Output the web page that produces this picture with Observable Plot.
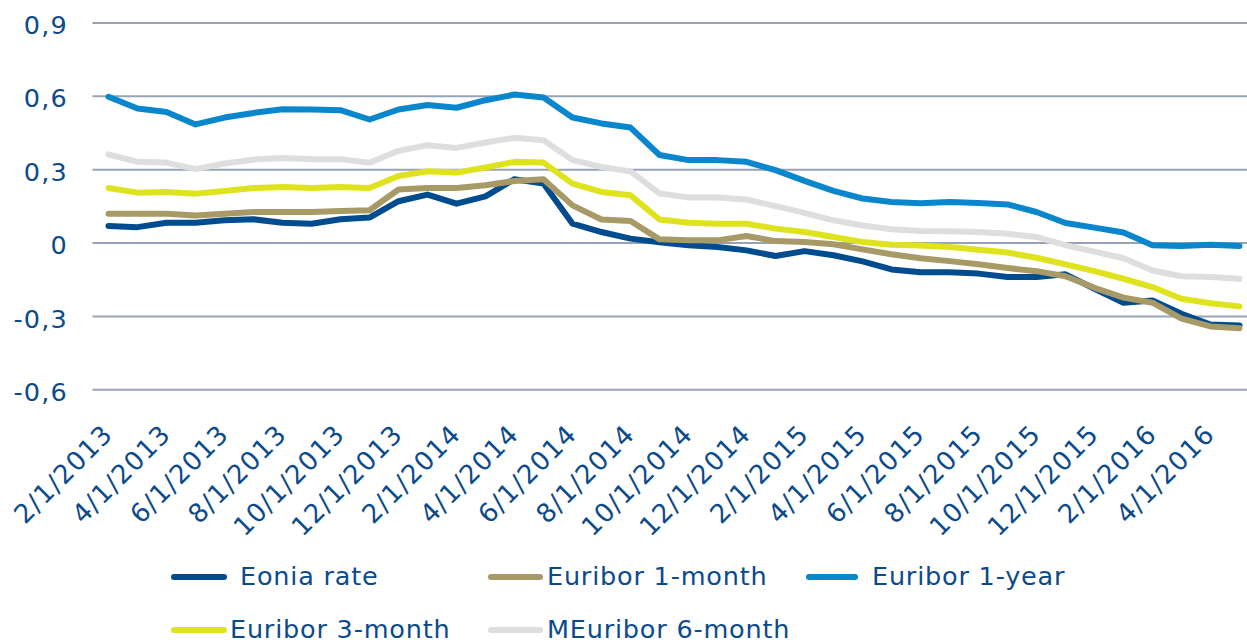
<!DOCTYPE html>
<html>
<head>
<meta charset="utf-8">
<script src="https://cdn.jsdelivr.net/npm/d3@7"></script>
<script src="https://cdn.jsdelivr.net/npm/@observablehq/plot@0.6"></script>
<style>
  html, body { margin: 0; padding: 0; background: #fff; }
  #wrap { position: relative; width: 1247px; height: 644px; overflow: hidden; font-family: "DejaVu Sans", Verdana, sans-serif; }
  #wrap svg { position: absolute; left: 0; top: 0; overflow: visible; }
  .lg { position: absolute; height: 6px; border-radius: 3px; }
  .lt { position: absolute; font-size: 25.5px; letter-spacing: 0.8px; color: #0b4a8b; line-height: 30px; white-space: nowrap; }
  #wrap svg g[aria-label="x-axis tick label"] text { letter-spacing: 1.2px; }
  #wrap svg g[aria-label="y-axis tick label"] text { letter-spacing: 1.2px; }
</style>
</head>
<body>
<div id="wrap"></div>
<script>
const months = [
  "2/1/2013","3/1/2013","4/1/2013","5/1/2013","6/1/2013","7/1/2013","8/1/2013","9/1/2013","10/1/2013","11/1/2013","12/1/2013",
  "1/1/2014","2/1/2014","3/1/2014","4/1/2014","5/1/2014","6/1/2014","7/1/2014","8/1/2014","9/1/2014","10/1/2014","11/1/2014","12/1/2014",
  "1/1/2015","2/1/2015","3/1/2015","4/1/2015","5/1/2015","6/1/2015","7/1/2015","8/1/2015","9/1/2015","10/1/2015","11/1/2015","12/1/2015",
  "1/1/2016","2/1/2016","3/1/2016","4/1/2016","5/1/2016"
];
const seriesNames = ["Eonia rate", "Euribor 1-month", "Euribor 1-year", "Euribor 3-month", "MEuribor 6-month"];
const seriesColors = ["#004c8f", "#a89a66", "#0a87cc", "#dfe31e", "#dedede"];

const eonia = [0.070,0.065,0.083,0.083,0.093,0.097,0.083,0.079,0.097,0.104,0.171,
  0.198,0.161,0.191,0.261,0.243,0.079,0.045,0.018,0.003,-0.009,-0.016,-0.030,
  -0.053,-0.033,-0.050,-0.075,-0.108,-0.119,-0.119,-0.125,-0.139,-0.139,-0.128,-0.187,
  -0.244,-0.235,-0.289,-0.333,-0.337];
const euribor1m = [0.120,0.120,0.120,0.113,0.120,0.127,0.127,0.127,0.131,0.134,0.219,
  0.225,0.225,0.236,0.254,0.261,0.154,0.096,0.090,0.015,0.011,0.011,0.029,
  0.008,0.004,-0.005,-0.026,-0.046,-0.062,-0.074,-0.087,-0.102,-0.115,-0.136,-0.183,
  -0.223,-0.244,-0.309,-0.341,-0.348];
const euribor1y = [0.598,0.550,0.536,0.485,0.513,0.532,0.547,0.546,0.543,0.505,0.546,
  0.564,0.553,0.584,0.607,0.595,0.513,0.489,0.472,0.360,0.339,0.339,0.332,
  0.298,0.254,0.213,0.182,0.168,0.163,0.168,0.164,0.158,0.127,0.082,0.063,
  0.043,-0.009,-0.012,-0.007,-0.012];
const euribor3m = [0.225,0.206,0.209,0.202,0.213,0.225,0.229,0.225,0.229,0.225,0.274,
  0.293,0.288,0.309,0.332,0.329,0.243,0.209,0.195,0.096,0.083,0.079,0.079,
  0.059,0.045,0.025,0.004,-0.007,-0.010,-0.016,-0.027,-0.039,-0.060,-0.087,-0.115,
  -0.146,-0.180,-0.228,-0.246,-0.259];
const euribor6m = [0.362,0.332,0.329,0.302,0.325,0.341,0.348,0.343,0.343,0.328,0.377,
  0.400,0.389,0.411,0.430,0.420,0.339,0.311,0.293,0.203,0.186,0.186,0.178,
  0.151,0.123,0.093,0.072,0.056,0.049,0.048,0.045,0.038,0.025,-0.009,-0.035,
  -0.062,-0.112,-0.136,-0.139,-0.146];

const yTicks = [-0.6, -0.3, 0, 0.3, 0.6, 0.9];
const yTickLabels = ["-0,6", "-0,3", "0", "0,3", "0,6", "0,9"];
const xTickLabels = months.filter((d, i) => i % 2 === 0);

const seriesValues = [eonia, euribor1m, euribor1y, euribor3m, euribor6m];
const rows = [];
seriesNames.forEach((name, s) => {
  seriesValues[s].forEach((v, i) => rows.push({month: months[i], series: name, value: v}));
});

const textColor = "#0b4a8b";
const chart = Plot.plot({
  width: 1247,
  height: 562,
  marginLeft: 92.5,
  marginRight: 0,
  marginTop: 22.4,
  marginBottom: 172.7,
  style: {fontFamily: "DejaVu Sans, Verdana, sans-serif", color: textColor, background: "transparent"},
  x: {type: "point", domain: months, range: [107, 1240], padding: 0},
  y: {domain: [-0.6, 0.9]},
  color: {domain: seriesNames, range: seriesColors},
  marks: [
    Plot.ruleY(yTicks, {stroke: "#98a2b5", strokeWidth: 2}),
    Plot.axisY({ticks: yTicks, tickFormat: d => yTickLabels[yTicks.indexOf(d)], tickSize: 0, tickPadding: 25, fontSize: 25.5, dy: 3, label: null}),
    Plot.axisX({ticks: xTickLabels, tickRotate: -45, tickSize: 0, tickPadding: 40, fontSize: 26, dx: 0, label: null}),
    Plot.line(rows, {x: "month", y: "value", z: "series", stroke: "series", strokeWidth: 6, strokeLinejoin: "round", strokeLinecap: "round"})
  ]
});
const wrap = document.getElementById("wrap");
wrap.appendChild(chart);

const legendItems = [
  {name: seriesNames[0], color: seriesColors[0], x1: 171, x2: 227, tx: 240, y: 577},
  {name: seriesNames[1], color: seriesColors[1], x1: 488, x2: 543, tx: 547, y: 577},
  {name: seriesNames[2], color: seriesColors[2], x1: 806, x2: 858, tx: 872, y: 577},
  {name: seriesNames[3], color: seriesColors[3], x1: 171, x2: 227, tx: 230, y: 630},
  {name: seriesNames[4], color: seriesColors[4], x1: 488, x2: 543, tx: 547, y: 630}
];
legendItems.forEach(it => {
  const sw = document.createElement("div");
  sw.className = "lg";
  sw.style.left = it.x1 + "px";
  sw.style.width = (it.x2 - it.x1) + "px";
  sw.style.top = (it.y - 3) + "px";
  sw.style.background = it.color;
  wrap.appendChild(sw);
  const t = document.createElement("div");
  t.className = "lt";
  t.style.left = it.tx + "px";
  t.style.top = (it.y - 16) + "px";
  t.textContent = it.name;
  wrap.appendChild(t);
});
</script>
</body>
</html>
